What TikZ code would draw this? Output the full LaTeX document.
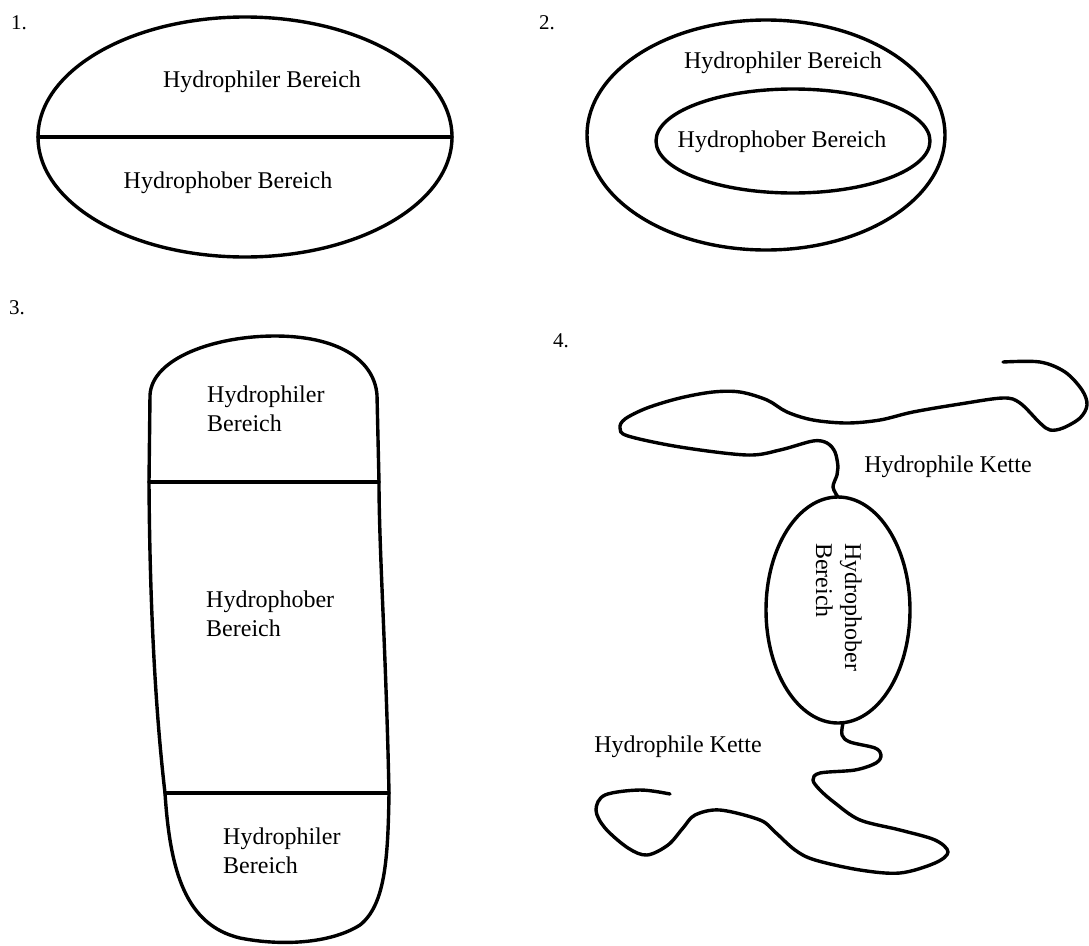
\documentclass[tikz,border=0pt]{standalone}
\usepackage{fontspec}
\setmainfont{Liberation Serif}
\begin{document}
\begin{tikzpicture}[x=1pt,y=-1pt,
  outline/.style={line width=3.4pt,line join=round,line cap=round},
  lbl/.style={font=\fontsize{24}{29}\selectfont,inner sep=0pt},
  two/.style={lbl,align=left},
  num/.style={font=\fontsize{21}{25}\selectfont,inner sep=0pt,anchor=west}]
\useasboundingbox (0,0) rectangle (1089,945);
% numbers
\node[num] (n1) at (11,23) {1.};
\node[num] (n2) at (539,23) {2.};
\node[num] (n3) at (9,308) {3.};
\node[num] (n4) at (553,341) {4.};
% panel 1
\draw[outline] (245,137) ellipse [x radius=207pt, y radius=120pt];
\draw[outline] (38,137) -- (452,137);
\node[lbl] (p1a) at (262,82) {Hydrophiler Bereich};
\node[lbl] (p1b) at (228,183) {Hydrophober Bereich};
% panel 2
\draw[outline] (766,135) ellipse [x radius=179pt, y radius=115pt];
\draw[outline] (793,141) ellipse [x radius=137pt, y radius=52pt];
\node[lbl] (p2a) at (783,63) {Hydrophiler Bereich};
\node[lbl] (p2b) at (782,142) {Hydrophober Bereich};
% panel 3
\draw[outline] (149,482) .. controls (150,650) and (160,750) .. (165,793)
  .. controls (170,870) and (185,925) .. (240,938)
  .. controls (280,946) and (330,944) .. (360,925)
  .. controls (385,905) and (388,860) .. (389,793)
  .. controls (386,650) and (379,550) .. (379,482)
  -- (377,395) .. controls (374,358) and (335,336) .. (275,336)
  .. controls (215,336) and (152,358) .. (150,395) -- cycle;
\draw[outline] (149,482) -- (379,482);
\draw[outline] (165,793) -- (389,793);
\node[two,anchor=north west] (p3a) at (207,386) {Hydrophiler\\Bereich};
\node[two,anchor=north west] (p3b) at (206,591) {Hydrophober\\Bereich};
\node[two,anchor=north west] (p3c) at (223,828) {Hydrophiler\\Bereich};
% panel 4
\draw[outline] (838,610) ellipse [x radius=72pt, y radius=113pt];
\node[two,rotate=-90,anchor=north west] (p4) at (862,543) {Hydrophober\\Bereich};
\draw[outline] plot[smooth,tension=0.55] coordinates {
 (1003,362) (1040,362) (1065,372) (1082,390) (1087,405) (1080,418) (1063,428)
 (1050,430) (1040,423) (1020,403) (1003,398) (960,404) (913,412) (880,420)
 (847,423) (813,420) (787,412) (767,400) (740,392) (713,392) (680,398)
 (647,408) (625,419) (620,428) (628,436) (680,447) (747,455) (780,450)
 (813,441) (827,443) (835,452) (838,467) (837,475) (833,487) (838,497)};
\draw[outline] plot[smooth,tension=0.55] coordinates {
 (843,723) (842,735) (850,742) (875,748) (881,755) (876,763) (855,770)
 (820,773) (813,780) (820,790) (835,803) (860,820) (900,830) (935,840)
 (948,852) (935,863) (900,873) (860,870) (815,860) (795,850) (775,832)
 (760,820) (720,810) (695,815) (683,828) (668,845) (647,855) (628,848)
 (605,828) (596,810) (605,795) (640,790) (670,794)};
\node[lbl] (k1) at (948,467) {Hydrophile Kette};
\node[lbl] (k2) at (678,747) {Hydrophile Kette};
\end{tikzpicture}
\end{document}
